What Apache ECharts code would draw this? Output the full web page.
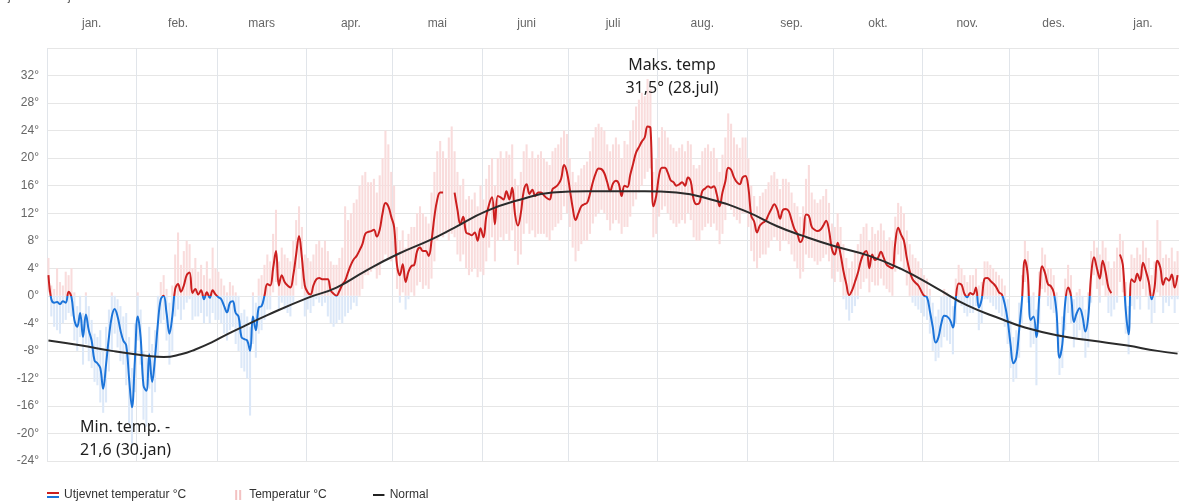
<!DOCTYPE html>
<html>
<head>
<meta charset="utf-8">
<script src="https://cdn.jsdelivr.net/npm/echarts@6/dist/echarts.min.js"></script>
<style>
  html, body { margin: 0; padding: 0; background: #ffffff; }
  #chart { width: 1179px; height: 501px; }
</style>
</head>
<body>
<div id="chart"></div>
<script>
// Daily temperature, Jan 2019 - Jan 2020 (393 days from 1 Jan 2019)
const startDate = Date.UTC(2019, 0, 1);
const dayCount = 393;
const categories = Array.from({ length: dayCount }, (_, i) =>
  new Date(startDate + i * 864e5).toISOString().slice(0, 10));

const monthLabels = ['jan.', 'feb.', 'mars', 'apr.', 'mai', 'juni', 'juli',
  'aug.', 'sep.', 'okt.', 'nov.', 'des.'];

// Smoothed daily temperature (°C); null = missing
const smoothTemp = [
  // jan 2019
  3.0, -0.5, -1.0, -0.9, -1.2, -0.8, -1.0, 0.6, -0.2, -3.5,
  -4.5, -2.5, -6.0, -2.7, -5.0, -6.5, -9.4, -9.8, -10.5, -13.5,
  -10.0, -6.0, -3.0, -1.9, -3.0, -5.0, -6.5, -7.2, -12.0, -16.2,
  -9.5,
  // feb
  -3.0, -6.0, -13.0, -13.8, -8.5, -12.5, -9.0, -4.0, -0.5, 0.0,
  -2.5, -5.5, -3.0, 1.0, 1.7, 0.6, 1.5, 3.0, 3.4, 0.4,
  1.0, 0.2, 0.8, -0.5, 0.5, -0.3, 0.8, 0.2,
  // mars
  -0.2, -0.5, -1.5, -2.4, -1.0, -0.8, -2.5, -3.0, -6.0, -6.3,
  -6.5, -8.0, -3.0, -5.0, -1.7, -1.5, 0.0, 1.7, 1.5, 4.0,
  6.5, 1.5, 3.0, 2.0, 1.5, 1.2, 3.0, 6.0, 8.7, 5.5,
  1.5,
  // apr
  0.5, 0.2, 1.5, 2.4, 2.6, 2.4, 2.4, 2.4, 0.8, 0.3,
  0.0, 0.7, 1.6, 2.2, 3.4, 4.5, 5.3, 5.8, 6.6, 7.5,
  9.0, 9.3, 9.4, 9.6, 8.6, 9.6, 12.0, 13.5, 13.0, 11.5,
  // mai
  10.0, 4.5, 3.0, 4.6, 2.0, 3.5, 4.3, 4.5, 6.5, 7.0,
  6.5, 6.5, 5.8, 8.0, 11.5, 14.0, 15.0, 15.0, null, null,
  null, 15.0, 12.5, 10.4, 11.5, 9.2, 9.0, 8.8, 9.2, 8.0,
  9.8,
  // juni
  8.5, 11.5, 13.3, 14.3, 10.4, 14.5, 14.3, 14.0, 15.2, 14.0,
  15.7, 11.8, 10.2, 12.0, 15.2, 16.2, 14.8, 15.4, 14.5, 15.0,
  15.0, 14.6, 14.2, 14.0, 15.5, 15.8, 16.2, 17.0, 19.0, 18.0,
  // juli
  15.5, 12.8, 11.0, 12.0, 13.0, 13.3, 13.5, 14.8, 16.5, 17.8,
  18.5, 18.4, 17.8, 16.5, 15.2, 16.3, 16.7, 16.3, 14.5, 16.0,
  15.8, 17.6, 19.2, 20.8, 21.6, 22.4, 23.0, 24.6, 24.4, 13.0,
  14.5,
  // aug
  17.5, 18.6, 18.6, 17.9, 16.8, 16.5, 16.0, 16.2, 16.5, 16.0,
  17.2, 16.6, 14.0, 13.3, 13.5, 15.2, 15.6, 15.9, 15.7, 15.9,
  14.8, 13.0, 15.0, 16.6, 18.6, 18.3, 17.2, 16.5, 16.2, 17.2,
  17.4,
  // sep
  15.7, 11.6, 10.8, 9.2, 10.2, 10.6, 10.9, 11.8, 12.6, 13.3,
  12.6, 11.2, 12.5, 12.6, 12.3, 11.0, 9.7, 9.0, 7.8, 8.6,
  11.8, 11.6, 10.0, 9.6, 9.4, 9.6, 10.2, 10.9, 9.5, 6.8,
  // okt
  6.0, 7.7, 6.0, 3.6, 1.7, 0.1, 0.8, 2.0, 3.3, 5.0,
  6.1, 6.5, 4.0, 6.0, 5.2, 5.5, 6.4, 5.5, 4.5, 4.2,
  4.0, 7.7, 9.9, 8.9, 8.0, 5.5, 3.6, 2.4, 1.9, 1.5,
  0.7,
  // nov
  0.0, -0.2, -2.2, -4.5, -6.8, -6.0, -4.0, -2.9, -3.0, -3.5,
  -4.6, -0.5, 1.8, 1.6, 0.3, -0.2, 0.4, 0.2, 1.2, -1.7,
  -0.5, 2.5, 2.6, 2.2, 1.8, 1.3, 0.5, 0.2, -1.2, -3.5,
  // des
  -7.0, -9.8, -9.0, -5.0, -0.5, 5.2, 3.0, -3.5, -3.0, -6.0,
  0.0, 4.3, 3.3, 1.7, 1.4, 0.5, -2.5, -9.0, -7.0, -1.0,
  1.2, 0.0, -3.8, -2.5, -1.8, -3.0, -5.2, -3.0, 3.0, 5.6,
  4.0,
  // jan 2020
  2.5, 5.1, 3.5, 1.2, 0.4, null, null, 6.0, 4.5, -2.0,
  -5.6, 2.4, 2.0, 3.2, 2.2, 4.8, 3.6, 2.0, -0.5, 1.2,
  5.1, 4.1, 1.6, 2.6, 2.2, 3.1, 1.2, 3.0
];

// Daily maximum (°C)
const dailyHigh = [
  // jan 2019
  5.5, 1.5, 1.0, 4.0, 2.0, 1.5, 3.5, 3.0, 4.0, 0.5,
  -1.5, 0.0, -2.5, 0.5, -1.5, -3.5, -5.5, -6.0, -5.0, -8.0,
  -4.5, -2.0, 0.5, 0.0, -0.5, -1.5, -3.0, -2.5, -6.0, -10.5,
  -4.0,
  // feb
  0.5, -2.0, -8.0, -9.0, -4.5, -7.0, -5.0, 0.0, 2.0, 3.0,
  1.0, -1.0, 1.5, 6.0, 9.2, 4.5, 6.5, 8.0, 7.5, 4.0,
  5.5, 3.5, 4.5, 3.0, 5.0, 2.5, 7.0, 4.0,
  // mars
  3.5, 2.5, 1.5, 0.5, 2.0, 1.5, 0.5, 0.0, -2.5, -2.0,
  -3.0, -4.5, 0.5, -1.0, 2.5, 3.0, 4.5, 6.0, 5.0, 9.0,
  12.5, 5.0, 7.0, 6.0, 5.5, 5.0, 8.0, 11.0, 13.0, 10.0,
  6.0,
  // apr
  5.5, 5.0, 6.0, 7.5, 8.0, 7.0, 8.0, 6.5, 5.0, 4.5,
  4.5, 5.5, 7.0, 13.0, 11.0, 12.0, 13.5, 14.0, 16.0, 17.5,
  18.0, 16.5, 16.5, 17.0, 15.0, 17.5, 20.0, 24.0, 22.0, 18.0,
  // mai
  16.0, 10.0, 8.0, 9.5, 7.0, 9.0, 10.0, 10.0, 12.0, 13.0,
  12.0, 11.5, 10.5, 15.0, 18.0, 21.0, 22.5, 21.0, 20.0, 23.0,
  24.6, 21.0, 18.0, 16.0, 17.0, 14.0, 14.5, 14.0, 15.0, 13.0,
  16.0,
  // juni
  14.0, 17.0, 19.0, 20.0, 16.0, 20.0, 21.0, 20.0, 21.0, 20.5,
  22.0, 17.0, 16.0, 18.0, 21.0, 22.0, 20.0, 21.0, 20.0, 20.5,
  21.0, 20.0, 19.5, 19.0, 21.0, 21.5, 22.0, 23.0, 24.0, 23.5,
  // juli
  20.0, 18.0, 16.5, 17.5, 18.5, 19.0, 19.5, 21.0, 23.0, 24.5,
  25.0, 24.5, 24.0, 22.0, 21.0, 22.0, 23.0, 22.0, 20.0, 22.5,
  22.0, 24.0, 25.5, 27.5, 28.5, 29.5, 29.0, 31.5, 30.0, 18.0,
  20.0,
  // aug
  23.0, 24.5, 24.0, 23.0, 22.0, 21.5, 21.0, 21.5, 22.0, 21.0,
  22.5, 22.0, 19.0, 18.5, 19.0, 21.0, 21.5, 22.0, 21.0, 21.5,
  20.0, 18.0, 20.5, 23.0, 26.5, 25.0, 23.0, 22.0, 21.5, 23.0,
  23.0,
  // sep
  20.0, 16.0, 14.5, 13.0, 14.5, 15.0, 15.5, 16.5, 17.5, 18.0,
  17.0, 15.5, 17.0, 17.0, 16.5, 15.0, 13.5, 13.0, 11.5, 13.0,
  17.0, 19.0, 15.0, 14.0, 13.5, 14.0, 14.5, 15.5, 13.5, 10.5,
  // okt
  10.0, 12.0, 10.0, 7.5, 5.5, 4.0, 5.0, 6.5, 7.5, 9.0,
  10.0, 10.5, 8.0, 10.0, 9.0, 9.5, 10.5, 9.5, 8.0, 8.5,
  8.0, 11.5, 13.5, 13.0, 12.0, 9.5, 7.5, 6.0, 5.5, 5.0,
  4.0,
  // nov
  3.0, 2.5, 1.0, -1.0, -3.0, -2.0, 0.0, 1.0, 0.5, 0.0,
  -1.5, 2.5, 4.5, 4.0, 3.0, 2.0, 3.0, 3.0, 4.0, 1.5,
  2.0, 5.0, 5.0, 4.5, 4.0, 3.5, 3.0, 2.5, 1.5, -0.5,
  // des
  -3.5, -6.0, -5.0, -1.0, 3.0, 8.0, 6.5, 0.0, 0.5, -2.0,
  3.5, 7.0, 6.0, 4.0, 4.0, 3.0, 0.5, -5.5, -3.0, 2.5,
  4.5, 3.0, -0.5, 0.5, 1.0, 0.0, -2.0, 0.5, 6.5, 8.0,
  7.0,
  // jan 2020
  6.0, 8.0, 7.0, 5.0, 4.0, 5.0, 7.0, 9.0, 8.0, 2.0,
  -1.5, 6.0, 5.5, 7.0, 6.0, 8.0, 7.0, 5.5, 3.0, 5.0,
  11.0, 8.0, 5.5, 6.0, 5.5, 7.0, 5.0, 6.5
];

// Daily minimum (°C)
const dailyLow = [
  // jan 2019
  0.5, -3.0, -4.5, -5.0, -5.5, -4.0, -3.5, -2.5, -3.0, -6.5,
  -8.0, -6.0, -10.0, -7.0, -9.5, -10.5, -12.5, -13.0, -15.5, -17.0,
  -15.5, -11.0, -8.0, -5.5, -7.5, -9.5, -10.0, -13.0, -18.5, -21.6,
  -14.0,
  // feb
  -6.5, -10.0, -18.0, -19.0, -13.5, -17.0, -14.0, -9.0, -4.0, -3.5,
  -6.5, -10.0, -8.0, -3.0, -2.0, -3.5, -2.0, -1.0, -0.5, -3.5,
  -3.0, -3.0, -2.5, -4.0, -3.0, -4.0, -2.5, -3.5,
  // mars
  -3.5, -4.0, -5.5, -6.5, -5.0, -4.5, -7.0, -8.0, -10.5, -11.0,
  -12.0, -17.4, -7.0, -9.0, -5.5, -5.0, -3.5, -2.0, -2.0, 0.5,
  2.0, -2.0, -1.0, -2.0, -2.5, -3.0, -1.0, 1.5, 4.0, 1.0,
  -3.0,
  // apr
  -2.0, -2.5, -1.5, -0.5, -1.0, -1.5, -1.0, -3.0, -4.0, -4.5,
  -4.0, -3.5, -4.0, -3.0, -2.5, -2.0, -1.0, -1.5, 0.0, 1.0,
  3.0, 3.0, 3.5, 4.0, 2.5, 3.0, 5.0, 6.0, 5.5, 5.0,
  // mai
  6.0, 1.0, -1.0, 0.5, -2.0, -0.5, 0.5, 0.0, 1.5, 2.0,
  1.0, 1.5, 1.0, 2.5, 5.0, 8.0, 9.0, 8.5, 9.0, 8.0,
  9.0, 8.5, 6.0, 5.0, 6.0, 4.0, 3.0, 3.5, 4.0, 2.7,
  3.5,
  // juni
  3.0, 5.0, 7.0, 8.5, 5.0, 8.0, 8.5, 8.0, 9.0, 8.0,
  9.5, 6.5, 4.5, 6.0, 9.0, 10.5, 9.0, 9.5, 8.5, 9.0,
  9.0, 9.0, 8.5, 8.0, 9.5, 10.0, 10.5, 11.0, 13.0, 12.0,
  // juli
  10.0, 7.0, 5.0, 6.5, 7.5, 8.0, 8.0, 9.0, 10.5, 11.5,
  12.0, 12.5, 12.0, 11.0, 9.5, 10.5, 11.0, 10.5, 9.0, 10.0,
  10.0, 11.5, 13.0, 14.0, 15.0, 16.0, 17.0, 18.0, 18.5, 8.5,
  9.0,
  // aug
  11.5, 12.5, 13.0, 12.0, 11.0, 10.5, 10.0, 10.5, 11.0, 10.5,
  12.0, 11.0, 8.5, 8.0, 8.0, 9.5, 10.0, 10.5, 10.0, 10.5,
  9.5, 7.5, 9.0, 11.0, 13.0, 12.5, 11.5, 11.0, 10.5, 12.0,
  12.0,
  // sep
  10.0, 6.5, 5.0, 4.0, 5.5, 6.0, 6.0, 7.0, 8.0, 8.5,
  8.0, 6.5, 8.0, 8.0, 7.5, 6.0, 5.0, 4.0, 2.5, 3.5,
  6.0, 5.5, 5.5, 5.0, 4.5, 5.0, 5.5, 6.0, 5.0, 2.5,
  // okt
  2.0, 3.5, 2.0, -0.5, -2.0, -3.6, -2.5, -1.5, -0.5, 1.0,
  2.0, 2.5, 0.5, 2.0, 1.5, 1.5, 2.5, 1.5, 1.0, 0.5,
  0.0, 3.5, 6.0, 5.0, 4.0, 1.5, 0.0, -1.0, -1.5, -2.0,
  -2.5,
  // nov
  -3.0, -3.5, -5.5, -8.0, -9.5, -9.0, -7.5, -6.0, -6.5, -7.0,
  -8.5, -4.0, -1.0, -1.5, -2.5, -3.0, -2.5, -2.5, -1.5, -5.0,
  -4.0, -0.5, -0.5, -1.0, -1.5, -2.0, -2.5, -3.0, -4.5, -7.0,
  // des
  -10.5, -12.5, -12.0, -9.0, -4.0, 2.0, -1.0, -7.5, -7.0, -13.0,
  -4.0, 1.0, 0.5, -1.5, -2.0, -2.5, -6.0, -11.5, -10.5, -5.0,
  -2.5, -4.0, -7.5, -6.0, -5.0, -6.5, -9.0, -7.5, -1.0, 3.0,
  1.0,
  // jan 2020
  -1.0, 1.5, 0.0, -2.5, -3.0, -2.0, -1.0, 2.0, 0.5, -5.5,
  -8.5, -1.5, -2.0, -0.5, -2.0, 1.0, 0.0, -2.0, -4.0, -2.5,
  0.5, 0.0, -2.5, -1.0, -1.5, -0.5, -2.5, -0.5
];

// Climate normal: [day index, °C]
const normalPoints = [
  [0, -6.5], [11, -7.2], [22, -8.0], [34, -8.7], [40, -8.9], [46, -8.5],
  [51, -7.8], [57, -6.7], [62, -5.6], [69, -4.2], [76, -2.8], [90, -0.3],
  [100, 1.2], [110, 3.6], [121, 6.0], [133, 8.2], [141, 9.9], [152, 12.3],
  [164, 14.0], [175, 15.0], [187, 15.2], [199, 15.2], [207, 15.2], [218, 15.0],
  [230, 14.0], [242, 12.3], [253, 10.1], [262, 8.7], [273, 7.2], [285, 5.8],
  [296, 3.9], [308, 1.2], [319, -1.4], [331, -3.4], [339, -4.6], [351, -5.8],
  [362, -6.5], [374, -7.2], [385, -8.0], [392, -8.4]
];

const yTicks = { min: -24, max: 36, step: 4 };

const RED = '#cc1f1f';
const BLUE = '#1c74d9';
const PINK = '#f9dcdc';
const LIGHTBLUE = '#dce8f8';

const svgIcon = (body) => 'image://data:image/svg+xml;charset=utf-8,' +
  encodeURIComponent('<svg xmlns="http://www.w3.org/2000/svg" width="12" height="10" viewBox="0 0 12 10">' + body + '</svg>');

const dayOfMonth = (i) => parseInt(categories[i].slice(8, 10), 10);
const monthOf = (i) => parseInt(categories[i].slice(5, 7), 10) - 1;

const rangeData = dailyLow.map((lo, i) => [i, lo, dailyHigh[i]]);

const chart = echarts.init(document.getElementById('chart'));

chart.setOption({
  animation: false,
  backgroundColor: '#ffffff',
  textStyle: { fontFamily: '"Liberation Sans", Arial, sans-serif' },
  grid: { left: 47, right: 0, top: 48, bottom: 40 },
  xAxis: {
    type: 'category',
    position: 'top',
    data: categories,
    boundaryGap: true,
    axisLine: { show: false },
    axisTick: { show: false },
    axisLabel: {
      color: '#666',
      fontSize: 12,
      margin: 18,
      interval: (i) => dayOfMonth(i) === (monthOf(i) === 1 ? 15 : 16),
      formatter: (v, i) => monthLabels[monthOf(i)]
    },
    splitLine: {
      show: true,
      interval: (i) => dayOfMonth(i) === 1,
      lineStyle: { color: '#e1e5ea', width: 1 }
    }
  },
  yAxis: {
    type: 'value',
    min: yTicks.min,
    max: yTicks.max,
    interval: yTicks.step,
    axisLine: { show: false },
    axisTick: { show: false },
    axisLabel: {
      color: '#666',
      fontSize: 12,
      margin: 8,
      formatter: (v) => (v === yTicks.max ? '' : v + '°')
    },
    splitLine: { lineStyle: { color: '#e6e6e6', width: 1 } }
  },
  legend: {
    left: 42,
    top: 484,
    itemGap: 46,
    itemWidth: 12,
    itemHeight: 10,
    textStyle: { color: '#333', fontSize: 12 },
    data: [
      { name: 'Utjevnet temperatur °C',
        icon: svgIcon('<rect x="0" y="2" width="12" height="2" fill="' + RED + '"/><rect x="0" y="6" width="12" height="2" fill="' + BLUE + '"/>') },
      { name: 'Temperatur °C',
        icon: svgIcon('<rect x="3" y="0" width="2" height="10" fill="#f3c2c2"/><rect x="7" y="0" width="2" height="10" fill="#f3c2c2"/>') },
      { name: 'Normal',
        icon: svgIcon('<rect x="0" y="4" width="12" height="2" fill="#222"/>') }
    ]
  },
  series: [
    {
      id: 'range',
      name: 'Temperatur °C',
      type: 'custom',
      z: 1,
      encode: { x: 0, y: [1, 2] },
      data: rangeData,
      renderItem: (params, api) => {
        const i = api.value(0);
        const lo = api.value(1);
        const hi = api.value(2);
        const w = Math.max(1, api.size([1, 0])[0] * 0.72);
        const children = [];
        const seg = (a, b, color) => {
          const top = api.coord([i, b]);
          const bot = api.coord([i, a]);
          children.push({
            type: 'rect',
            shape: { x: top[0] - w / 2, y: top[1], width: w, height: Math.max(0.6, bot[1] - top[1]) },
            style: { fill: color }
          });
        };
        if (hi > 0) seg(Math.max(lo, 0), hi, PINK);
        if (lo < 0) seg(lo, Math.min(hi, 0), LIGHTBLUE);
        return { type: 'group', children };
      }
    },
    {
      id: 'smooth',
      name: 'Utjevnet temperatur °C',
      type: 'line',
      z: 3,
      data: smoothTemp,
      smooth: 0.4,
      showSymbol: false,
      connectNulls: false,
      color: RED,
      lineStyle: { width: 2, color: RED }
    },
    {
      id: 'normal',
      name: 'Normal',
      type: 'line',
      z: 4,
      data: normalPoints,
      smooth: 0.5,
      showSymbol: false,
      color: '#2b2b2b',
      lineStyle: { width: 2, color: '#2b2b2b' }
    }
  ],
  graphic: [
    {
      type: 'text', x: 8, y: -9,
      style: { text: 'jan. 2019 - jan. 2020', font: '12px "Liberation Sans", Arial, sans-serif', fill: '#555' }
    },
    {
      type: 'text', x: 672, y: 54, z: 10,
      style: {
        text: 'Maks. temp\n31,5° (28.jul)', textAlign: 'center', lineHeight: 23,
        font: '16px "Noto Sans", sans-serif', fill: '#1e1e1e'
      }
    },
    {
      type: 'text', x: 80, y: 416, z: 10,
      style: {
        text: 'Min. temp. -\n21,6 (30.jan)', textAlign: 'left', lineHeight: 23,
        font: '16px "Noto Sans", sans-serif', fill: '#1e1e1e'
      }
    }
  ]
});

// Colour the smoothed line red above 0° and blue below, split at the 0° pixel row
const yTopPx = chart.convertToPixel({ yAxisIndex: 0 }, yTicks.max);
const yBotPx = chart.convertToPixel({ yAxisIndex: 0 }, yTicks.min);
const yZeroPx = chart.convertToPixel({ yAxisIndex: 0 }, 0);
const split = (yZeroPx - yTopPx) / (yBotPx - yTopPx);
chart.setOption({
  series: [{
    id: 'smooth',
    lineStyle: {
      color: new echarts.graphic.LinearGradient(0, yTopPx, 0, yBotPx, [
        { offset: 0, color: RED },
        { offset: split, color: RED },
        { offset: split, color: BLUE },
        { offset: 1, color: BLUE }
      ], true)
    }
  }]
});
</script>
</body>
</html>
